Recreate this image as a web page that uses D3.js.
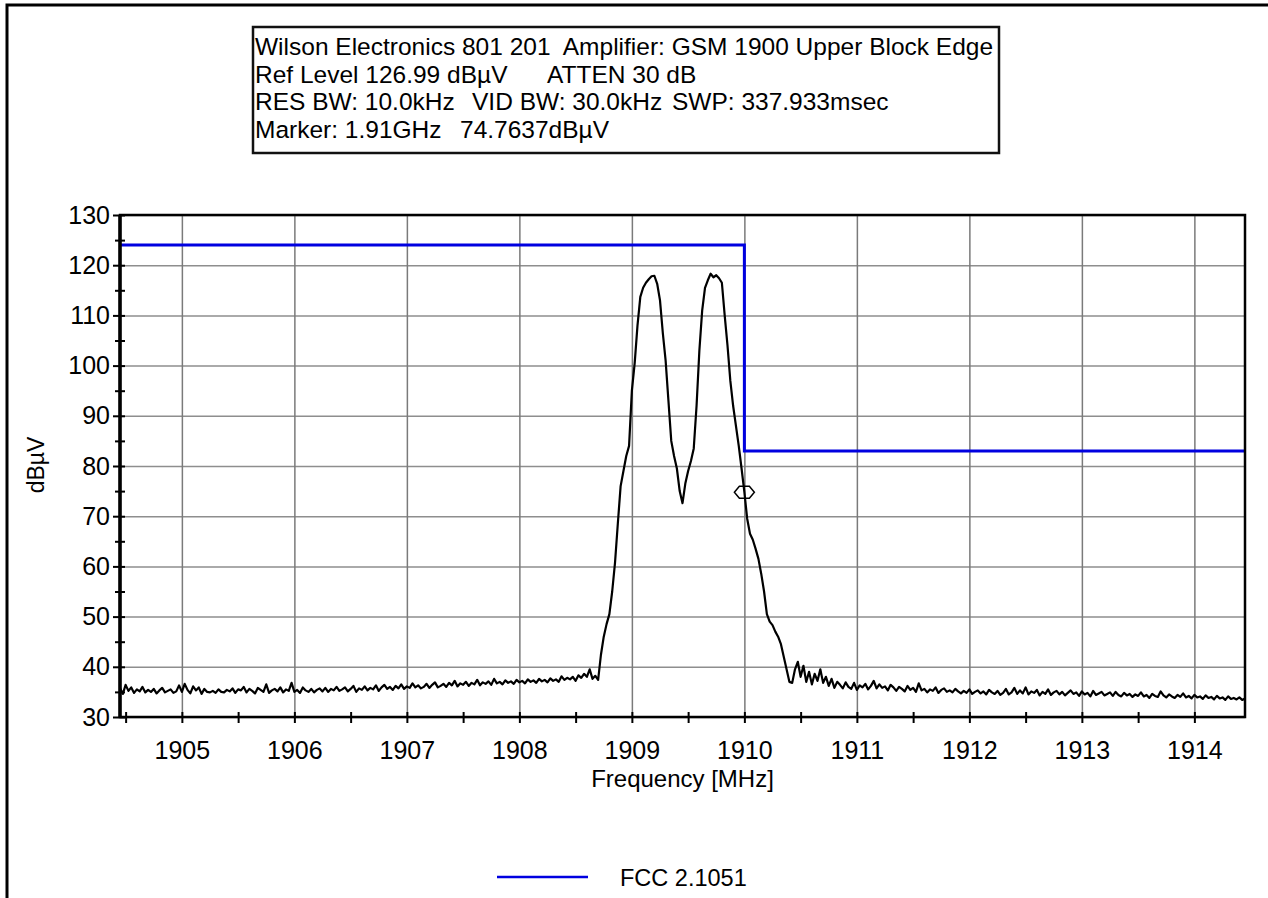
<!DOCTYPE html>
<html>
<head>
<meta charset="utf-8">
<script src="https://cdn.jsdelivr.net/npm/d3@7"></script>
<style>
  body { margin: 0; background: #fff; }
  svg { display: block; font-family: "Liberation Sans", Arial, sans-serif; }
</style>
</head>
<body>
<div id="chart"></div>
<script>
// spectrum plot: GSM 1900 upper block edge

// sweep settings (MHz)
var sweepStart = 1904.45;
var sweepStop = 1914.45;

// trace levels, dBuV, one per sweep point
var traceLevels = [
  35.8,34.6,36.4,35.2,35.9,34.8,35.5,35.1,36.0,34.9,35.4,35.0,35.6,34.7,35.3,35.8,34.9,35.2,35.5,34.8,
  35.1,36.3,35.0,36.6,35.4,34.7,36.1,35.3,35.9,34.6,35.6,35.0,34.9,35.2,34.8,35.5,35.0,34.9,35.4,35.1,
  35.7,34.8,35.5,35.3,36.0,34.9,35.6,35.2,34.7,35.8,35.4,35.0,36.5,34.8,35.3,35.6,35.1,35.9,34.9,35.5,
  35.2,36.8,35.0,35.4,34.8,35.9,35.3,35.0,35.6,34.9,35.4,35.7,35.1,35.8,35.0,35.6,35.3,36.0,35.2,35.5,
  35.9,35.1,35.6,36.2,35.0,35.7,35.4,36.1,35.3,35.8,35.5,36.3,35.2,35.9,36.4,35.6,36.0,35.4,36.2,35.7,
  36.5,35.6,36.1,35.8,36.7,35.9,36.3,35.7,36.0,36.6,35.8,36.4,36.9,35.9,36.2,36.6,36.0,36.8,36.3,37.2,
  36.1,36.7,36.4,37.0,36.2,36.8,36.5,37.4,36.3,36.9,36.6,37.1,36.4,37.6,36.7,37.0,36.5,37.3,36.8,37.1,
  36.6,37.4,36.9,37.2,36.7,37.5,37.0,37.3,36.8,37.6,37.1,37.4,36.9,37.7,37.2,37.5,37.0,38.1,37.4,37.8,
  // the two carriers
  37.5,38.0,37.2,38.3,37.8,38.6,38.0,39.5,37.6,38.2,
  37.4,42.4,46.0,48.5,50.5,55.0,60.7,68.5,76.0,79.0,
  82.0,84.0,95.0,100.5,108.0,113.7,115.5,116.5,117.2,117.8,
  117.9,116.3,113.0,106.5,101.0,93.0,85.0,82.0,79.5,75.0,
  72.6,76.5,79.0,81.0,83.5,92.0,103.0,111.0,115.5,117.0,
  118.3,117.6,118.0,117.4,116.5,110.0,104.0,97.0,92.0,88.0,
  84.0,79.5,74.8,69.5,66.5,65.3,63.5,61.5,58.5,55.0,
  50.5,49.0,48.3,47.0,46.0,44.5,42.0,39.5,37.0,36.8,
  39.5,41.0,38.0,40.2,37.0,39.0,36.5,38.6,
  // noise above the block edge
  37.2,39.5,36.8,38.0,36.2,37.6,35.8,37.0,36.4,35.7,36.9,36.0,
  35.6,36.8,35.4,36.3,35.9,36.6,35.5,36.2,37.2,35.7,36.5,35.8,36.1,35.3,36.4,35.9,35.2,36.0,35.6,35.1,
  36.2,35.4,35.8,35.0,36.7,35.3,35.6,34.9,35.5,35.2,35.9,34.8,35.4,35.7,35.0,35.3,34.9,35.6,35.1,34.7,
  35.2,34.8,35.5,34.6,35.0,35.3,34.7,35.1,34.5,35.4,34.9,34.6,35.2,34.4,34.8,35.6,34.5,34.9,35.8,34.6,
  35.3,34.7,35.9,34.5,35.1,34.8,35.4,34.3,35.0,34.6,35.5,34.4,34.9,35.2,34.5,35.0,34.3,34.8,35.3,34.6,
  34.9,34.2,35.1,34.5,34.8,34.1,35.2,34.4,34.7,35.0,34.3,34.6,34.9,34.2,35.0,34.4,34.1,34.8,34.3,34.6,
  34.0,34.5,34.2,34.9,34.1,34.4,33.8,34.6,34.2,34.0,35.1,34.3,33.9,34.5,34.1,33.8,34.4,34.0,34.7,33.9,
  34.2,33.7,34.4,33.9,34.1,33.6,34.3,33.8,34.0,33.5,34.2,33.7,33.9,33.4,34.1,33.6,33.8,33.5,33.9,33.4,33.7
];

// FCC 2.1051 limit line
var limitFreqs = [1904.45, 1910, 1910, 1914.45];
var limitLevels = [124, 124, 83, 83];

// marker
var markerFreq = 1910;
var markerLevel = 74.7637;

// axis ticks
var xTicks = [1905, 1906, 1907, 1908, 1909, 1910, 1911, 1912, 1913, 1914];
var yTicks = [30, 40, 50, 60, 70, 80, 90, 100, 110, 120, 130];

// header text, pieces of each line
var headerLines = [
  ['Wilson Electronics 801 201  Amplifier: GSM 1900 Upper Block Edge'],
  ['Ref Level 126.99 dB\u00b5V', 'ATTEN 30 dB'],
  ['RES BW: 10.0kHz', 'VID BW: 30.0kHz', 'SWP: 337.933msec'],
  ['Marker: 1.91GHz', '74.7637dB\u00b5V']
];
var legendLabel = 'FCC 2.1051';

// svg area
var svgWidth = 1268;
var svgHeight = 898;

var margin = {top: 215, left: 120, right: 23, bottom: 181};
var width = svgWidth - margin.left - margin.right;
var height = svgHeight - margin.top - margin.bottom;

var svg = d3.select('#chart')
  .append('svg')
  .attr('width', svgWidth)
  .attr('height', svgHeight);

svg.append('rect')
  .attr('width', svgWidth)
  .attr('height', svgHeight)
  .attr('fill', '#fff');

// page frame (top + left only)
svg.append('path')
  .attr('d', 'M7,' + svgHeight + 'V5H' + svgWidth)
  .attr('fill', 'none')
  .attr('stroke', '#000')
  .attr('stroke-width', 3);

// header box
var header = svg.append('g');
header.append('rect')
  .attr('x', 253)
  .attr('y', 27)
  .attr('width', 746)
  .attr('height', 126)
  .attr('fill', '#fff')
  .attr('stroke', '#111')
  .attr('stroke-width', 2.5);

var pieceX = [[255], [255, 547], [255, 472, 672], [255, 460]];
headerLines.forEach(function(line, i) {
  var t = header.append('text')
    .attr('y', 55 + i * 27.7)
    .attr('font-size', 24.5)
    .attr('fill', '#000')
    .style('white-space', 'pre');
  line.forEach(function(piece, j) {
    t.append('tspan').attr('x', pieceX[i][j]).text(piece);
  });
});

var chartGroup = svg.append('g')
  .attr('transform', `translate(${margin.left}, ${margin.top})`);

// scales
var xScale = d3.scaleLinear()
  .domain([sweepStart, sweepStop])
  .range([0, width]);

var yScale = d3.scaleLinear()
  .domain([30, 130])
  .range([height, 0]);

var sweepPoint = d3.scaleLinear()
  .domain([0, traceLevels.length - 1])
  .range([sweepStart, sweepStop]);

// grid
var gridY = chartGroup.append('g')
  .call(d3.axisLeft(yScale).tickValues(yTicks).tickSize(-width).tickFormat(''));
gridY.select('.domain').remove();
gridY.selectAll('line').attr('stroke', '#8e8e8e').attr('stroke-width', 1.5);

var gridX = chartGroup.append('g')
  .attr('transform', `translate(0, ${height})`)
  .call(d3.axisBottom(xScale).tickValues(xTicks).tickSize(-height).tickFormat(''));
gridX.select('.domain').remove();
gridX.selectAll('line').attr('stroke', '#7a7a7a').attr('stroke-width', 1.5);

// limit line
var limitLine = d3.line()
  .x(function(d) { return xScale(d[0]); })
  .y(function(d) { return yScale(d[1]); });

chartGroup.append('path')
  .datum(limitFreqs.map(function(f, i) { return [f, limitLevels[i]]; }))
  .attr('d', limitLine)
  .attr('fill', 'none')
  .attr('stroke', '#0000e0')
  .attr('stroke-width', 3);

// trace
var traceLine = d3.line()
  .x(function(d, i) { return xScale(sweepPoint(i)); })
  .y(function(d) { return yScale(d); });

chartGroup.append('path')
  .datum(traceLevels)
  .attr('d', traceLine)
  .attr('fill', 'none')
  .attr('stroke', '#000')
  .attr('stroke-width', 2.2)
  .attr('stroke-linejoin', 'round');

// marker
chartGroup.append('path')
  .attr('transform', `translate(${xScale(markerFreq)}, ${yScale(markerLevel)})`)
  .attr('d', 'M-10,0L-5,-6L5,-6L10,0L5,6L-5,6Z')
  .attr('fill', 'none')
  .attr('stroke', '#000')
  .attr('stroke-width', 1.5);

// plot frame
chartGroup.append('rect')
  .attr('width', width)
  .attr('height', height)
  .attr('fill', 'none')
  .attr('stroke', '#000')
  .attr('stroke-width', 2.5);

chartGroup.append('line')
  .attr('y1', 0)
  .attr('y2', height)
  .attr('stroke', '#000')
  .attr('stroke-width', 3.5);

// y axis ticks and labels
var yAxis = chartGroup.append('g')
  .attr('transform', 'translate(5, 0)')
  .call(d3.axisLeft(yScale).tickValues(yTicks).tickSize(12).tickPadding(3));
yAxis.select('.domain').remove();
yAxis.selectAll('line').attr('stroke', '#000').attr('stroke-width', 2);
yAxis.selectAll('text')
  .attr('font-size', 25)
  .attr('font-family', '"Liberation Sans", Arial, sans-serif')
  .attr('fill', '#000');

var yMinor = chartGroup.append('g')
  .attr('transform', 'translate(5, 0)')
  .call(d3.axisLeft(yScale).tickValues(d3.range(35, 130, 10)).tickSize(10).tickFormat(''));
yMinor.select('.domain').remove();
yMinor.selectAll('line').attr('stroke', '#000').attr('stroke-width', 2);

// x axis ticks and labels
var xAxis = chartGroup.append('g')
  .attr('transform', `translate(0, ${height + 6})`)
  .call(d3.axisBottom(xScale).tickValues(xTicks).tickSize(-11).tickPadding(18).tickFormat(d3.format('d')));
xAxis.select('.domain').remove();
xAxis.selectAll('line').attr('stroke', '#000').attr('stroke-width', 2);
xAxis.selectAll('text')
  .attr('font-size', 25)
  .attr('font-family', '"Liberation Sans", Arial, sans-serif')
  .attr('fill', '#000');

var xMinor = chartGroup.append('g')
  .attr('transform', `translate(0, ${height + 6})`)
  .call(d3.axisBottom(xScale).tickValues(d3.range(1904.5, 1914, 1)).tickSize(-11).tickFormat(''));
xMinor.select('.domain').remove();
xMinor.selectAll('line').attr('stroke', '#000').attr('stroke-width', 2);

// axis titles
svg.append('text')
  .attr('x', margin.left + width / 2)
  .attr('y', 787)
  .attr('text-anchor', 'middle')
  .attr('font-size', 24)
  .text('Frequency [MHz]');

svg.append('text')
  .attr('transform', 'translate(44, 465) rotate(-90)')
  .attr('text-anchor', 'middle')
  .attr('font-size', 23)
  .text('dB\u00b5V');

// legend
svg.append('line')
  .attr('x1', 497)
  .attr('x2', 588)
  .attr('y1', 877)
  .attr('y2', 877)
  .attr('stroke', '#0000e0')
  .attr('stroke-width', 2.5);

svg.append('text')
  .attr('x', 620)
  .attr('y', 886)
  .attr('font-size', 23.5)
  .text(legendLabel);
</script>
</body>
</html>
